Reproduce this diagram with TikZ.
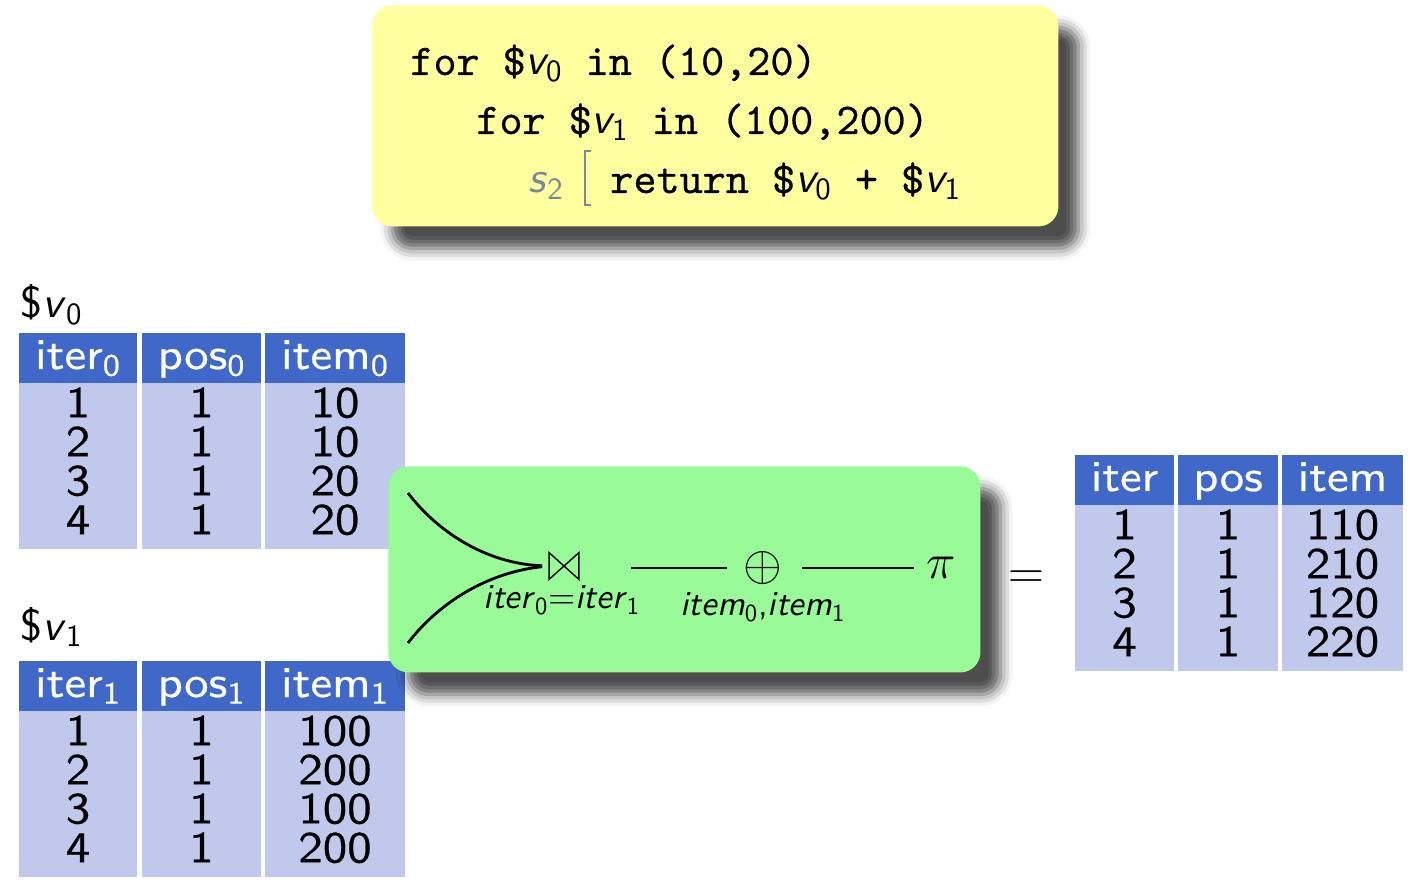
\documentclass[tikz,border=0pt]{standalone}
\usepackage{fontspec}
\usepackage{amssymb}
\setsansfont{lmsans10-regular.otf}[ItalicFont=lmsans10-oblique.otf, BoldFont=lmsans10-bold.otf]
\setmonofont{lmmono10-regular.otf}[FakeBold=0.5]
\newfontfamily\tabfont{lmsans10-regular.otf}[FakeStretch=1.11, FakeBold=0.5]
\usetikzlibrary{shadows.blur}
\definecolor{hdrblue}{RGB}{64,104,200}
\definecolor{bodyblue}{RGB}{192,200,236}
\definecolor{codeyellow}{RGB}{255,255,160}
\definecolor{algreen}{RGB}{152,251,152}
\definecolor{sgray}{RGB}{125,135,155}
\newcommand\vv[1]{{\sffamily\itshape v}\textsubscript{\sffamily\upshape #1}}
\newcommand\tcol[6]{%
  \fill[hdrblue] (#2,#4) rectangle (#3,#4+50);
  \fill[bodyblue] (#2,#4+50) rectangle (#3,#4+216);
  \node[hdrtxt] (#1h) at ({(#2+#3)/2},#4+36) {#5};
  \node[celltxt] (#1b) at ({(#2+#3)/2},#4+54) {#6};
}
\tikzset{
  tabfontstyle/.style={font=\tabfont\fontsize{22}{19.5}\selectfont},
  hdrtxt/.style={tabfontstyle, anchor=base, text=white, inner sep=0pt},
  celltxt/.style={tabfontstyle, anchor=north, align=center, text=black, inner sep=0pt},
  lbltxt/.style={font=\sffamily\fontsize{22}{26}\selectfont, anchor=base west, inner sep=0pt},
  codetxt/.style={anchor=base west, inner sep=0pt, font=\ttfamily\fontsize{22}{26}\selectfont},
  shadowbox/.style={rounded corners=10pt, inner sep=0pt, anchor=north west,
     blur shadow={shadow xshift=10pt, shadow yshift=-11pt, shadow blur radius=6pt, shadow opacity=70}},
  conn/.style={line width=1.4pt, black},
  op/.style={inner sep=0pt, font=\fontsize{23}{26}\selectfont},
  lab/.style={anchor=base, inner sep=0pt, font=\sffamily\fontsize{17.5}{20}\selectfont},
}
\begin{document}
\begin{tikzpicture}[x=0.5pt,y=-0.5pt]
\useasboundingbox (0,0) rectangle (1410,882);

% code box
\node[shadowbox, fill=codeyellow, minimum width=343pt, minimum height=110.5pt] (code) at (372,5) {};
\node[codetxt] (l1) at (410,75) {for \$\vv0 in (10,20)};
\node[codetxt] (l2) at (476,134) {for \$\vv1 in (100,200)};
\node[codetxt, text=sgray, font=\sffamily\fontsize{22}{26}\selectfont] (s2) at (528,193) {\textit{s}\textsubscript{2}};
\node[codetxt] (l3) at (610,193) {return \$\vv0 + \$\vv1};
\draw[sgray, line width=0.8pt] (591,151) -- (585,151) -- (585,205) -- (591,205);

% input tables
\node[lbltxt] (v0lab) at (20,318) {\$\textit{v}\textsubscript{0}};
\tcol{a1}{19}{137}{333}{iter\textsubscript{0}}{1\\2\\3\\4}
\tcol{a2}{142}{261}{333}{pos\textsubscript{0}}{1\\1\\1\\1}
\tcol{a3}{265}{405}{333}{item\textsubscript{0}}{10\\10\\20\\20}

\node[lbltxt] (v1lab) at (20,640) {\$\textit{v}\textsubscript{1}};
\tcol{b1}{19}{137}{661}{iter\textsubscript{1}}{1\\2\\3\\4}
\tcol{b2}{142}{261}{661}{pos\textsubscript{1}}{1\\1\\1\\1}
\tcol{b3}{265}{405}{661}{item\textsubscript{1}}{100\\200\\100\\200}

% algebra box
\node[shadowbox, fill=algreen, minimum width=296pt, minimum height=103pt] (alg) at (388,466) {};
\node[inner sep=0pt, minimum width=14.5pt, minimum height=13pt] (join) at (564,566) {};
\draw[line width=0.7pt] (join.north west) -- (join.south west) -- (join.north east) -- (join.south east) -- cycle;
\node[op] (plus) at (763,568) {$\oplus$};
\node[op, font=\fontsize{24}{26}\selectfont] (pi) at (941,568) {$\pi$};
\coordinate (in0) at (408,493);
\coordinate (in1) at (408,643);
\draw[conn, shorten >=3.5pt] (in0) .. controls (440,535) and (490,564) .. (join.west);
\draw[conn, shorten >=3.5pt] (in1) .. controls (440,601) and (490,572) .. (join.west);
\draw[conn, shorten <=33.5pt, shorten >=18pt] (plus.center -| join.center) -- (plus.center);
\draw[conn, shorten <=19.5pt, shorten >=13.5pt] (plus.center) -- (pi.center);
\node[lab] (jlab) at (562,609) {\textit{iter}\textsubscript{0}=\textit{iter}\textsubscript{1}};
\node[lab] (plab) at (763,616) {\textit{item}\textsubscript{0},\textit{item}\textsubscript{1}};

% result
\node[op] (eq) at (1026,580) {$=$};
\tcol{r1}{1075}{1174}{455}{iter}{1\\2\\3\\4}
\tcol{r2}{1178}{1278}{455}{pos}{1\\1\\1\\1}
\tcol{r3}{1282}{1403}{455}{item}{110\\210\\120\\220}
\end{tikzpicture}
\end{document}
